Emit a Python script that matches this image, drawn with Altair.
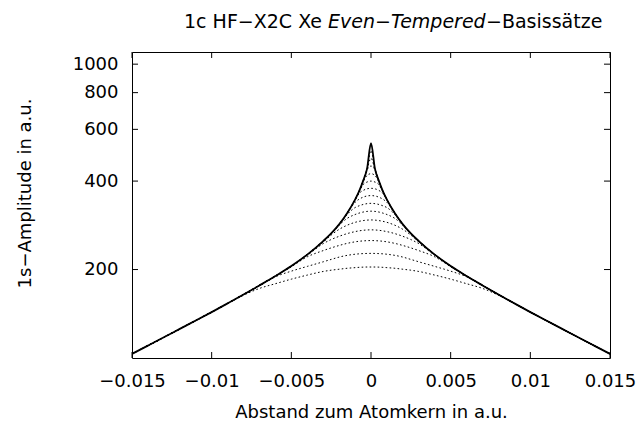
import altair as alt
import pandas as pd

# ---------------- data ----------------
# half grid of distances (curves are symmetric about the nucleus)
x_half = [0, 0.00025, 0.0005, 0.00075, 0.001, 0.0015, 0.002, 0.0025, 0.003,
          0.004, 0.005, 0.006, 0.007, 0.008, 0.009, 0.01, 0.011, 0.012,
          0.013, 0.014, 0.015]
# reference (solid) 1s amplitude
solid = [538, 440, 400, 369, 346, 311, 285, 265.5, 250, 224.8, 205.5, 190,
         176.6, 164.4, 153.4, 143.3, 134.1, 125.6, 117.6, 110.2, 103.3]
# even-tempered basis set curves (dotted); inner values, outside they follow the solid curve
d1 = [204, 204, 203.8, 203.5, 203, 202, 200.5, 199, 197, 191.5, 185.5, 179, 172.5, 163.5]
d2 = [227, 226.9, 226.6, 226.2, 225.5, 223.5, 220.5, 216.5, 212.5, 205, 197.5, 189]
d3 = [251, 250.8, 250.3, 249.6, 248.5, 245.5, 241.5, 237, 232, 221, 204.5]
d4 = [273, 272.7, 272, 270.8, 269.2, 265, 259.5, 253, 245, 223.5]
d5 = [295, 294.6, 293.5, 291.8, 289.5, 283, 274, 262, 248]
d6 = [316, 315.4, 313.8, 311.2, 307.8, 298.5, 283, 264]
d7 = [336, 335.2, 333, 329.5, 325, 307.5, 284]
d8 = [357, 356, 352.5, 347, 338.5, 310]
d9 = [378, 376.5, 371.5, 363, 344.5]
d10 = [400, 397, 389, 368]
d11 = [424, 418, 396, 368.5]
d12 = [450, 437, 399]
d13 = [478, 438]
d14 = [508, 439]
dotted = [d1, d2, d3, d4, d5, d6, d7, d8, d9, d10, d11, d12, d13, d14]

x_ticks = [-0.015, -0.01, -0.005, 0, 0.005, 0.01, 0.015]
y_ticks = [200, 400, 600, 800, 1000]

title_parts = ["1c HF\u2212X2C Xe", "Even\u2212Tempered", "\u2212Basiss\u00e4tze"]
x_title = "Abstand zum Atomkern in a.u."
y_title = "1s\u2212Amplitude in a.u."

# ---------------- build table ----------------
rows = []
def add_curve(name, half):
    for xv, yv in zip(x_half, half):
        rows.append({"x": xv, "y": yv, "curve": name})
        if xv != 0:
            rows.append({"x": -xv, "y": yv, "curve": name})

add_curve("exact", solid)
for i, d in enumerate(dotted):
    full = list(d) + solid[len(d):]
    add_curve(f"et{i+1:02d}", full)

df = pd.DataFrame(rows)
df_solid = df[df.curve == "exact"]
df_dot = df[df.curve != "exact"]

W, H = 478, 306
FONT = "DejaVu Sans"

xscale = alt.Scale(domain=[-0.015, 0.015], nice=False, zero=False)
yscale = alt.Scale(type="log", domain=[100, 1100], nice=False)

xaxis = alt.Axis(values=x_ticks, format=".3~f", ticks=False, tickSize=0,
                 domain=False, grid=False, labelFlush=False, labelOverlap=False,
                 labelFont=FONT, labelFontSize=18, labelColor="black",
                 labelPadding=14, title=x_title, titleFont=FONT,
                 titleFontSize=18, titleFontWeight="normal", titleColor="black",
                 titleX=W / 2, titleY=54, titleBaseline="middle", titleAlign="center")
yaxis = alt.Axis(values=y_ticks, format="~g", ticks=False, tickSize=0,
                 domain=False, grid=False, labelOverlap=False,
                 labelFont=FONT, labelFontSize=18, labelColor="black",
                 labelPadding=14, title=y_title, titleFont=FONT,
                 titleFontSize=18, titleFontWeight="normal", titleColor="black",
                 titleX=-107, titleY=141, titleBaseline="middle", titleAlign="center")

solid_layer = alt.Chart(df_solid).mark_line(
    color="black", strokeWidth=1.8, interpolate="monotone", clip=True
).encode(
    x=alt.X("x:Q", scale=xscale, axis=xaxis),
    y=alt.Y("y:Q", scale=yscale, axis=yaxis),
    detail="curve:N",
)

dot_layer = alt.Chart(df_dot).mark_line(
    color="black", strokeWidth=1, strokeDash=[1.6, 2.4], interpolate="monotone", clip=True
).encode(
    x=alt.X("x:Q", scale=xscale, axis=xaxis),
    y=alt.Y("y:Q", scale=yscale, axis=yaxis),
    detail="curve:N",
)

tick_len = 6
xt = pd.DataFrame({"x": x_ticks})
yt = pd.DataFrame({"y": y_ticks})
xtick_bottom = alt.Chart(xt).mark_rule(color="black", strokeWidth=1).encode(
    x=alt.X("x:Q", scale=xscale, axis=xaxis), y=alt.value(H), y2=alt.value(H - tick_len))
xtick_top = alt.Chart(xt).mark_rule(color="black", strokeWidth=1).encode(
    x=alt.X("x:Q", scale=xscale, axis=xaxis), y=alt.value(0), y2=alt.value(tick_len))
ytick_left = alt.Chart(yt).mark_rule(color="black", strokeWidth=1).encode(
    y=alt.Y("y:Q", scale=yscale, axis=yaxis), x=alt.value(0), x2=alt.value(tick_len))
ytick_right = alt.Chart(yt).mark_rule(color="black", strokeWidth=1).encode(
    y=alt.Y("y:Q", scale=yscale, axis=yaxis), x=alt.value(W), x2=alt.value(W - tick_len))

# title composed of three pieces (middle one italic)
tdf = pd.DataFrame({"t": title_parts, "i": [0, 1, 2]})
t1 = alt.Chart(tdf[tdf.i == 0]).mark_text(
    align="right", baseline="middle", font=FONT, fontSize=19, color="black"
).encode(text="t:N", x=alt.value(190), y=alt.value(-30))
t2 = alt.Chart(tdf[tdf.i == 1]).mark_text(
    align="left", baseline="middle", font=FONT, fontSize=19, fontStyle="italic", color="black"
).encode(text="t:N", x=alt.value(196), y=alt.value(-30))
t3 = alt.Chart(tdf[tdf.i == 2]).mark_text(
    align="left", baseline="middle", font=FONT, fontSize=19, color="black"
).encode(text="t:N", x=alt.value(354), y=alt.value(-30))

chart = alt.layer(
    solid_layer, dot_layer, xtick_bottom, xtick_top, ytick_left, ytick_right, t1, t2, t3
).properties(
    width=W, height=H,
    autosize=alt.AutoSizeParams(type="none"),
    padding={"left": 124, "top": 44, "right": 26, "bottom": 66},
    background="white",
).configure_view(stroke="black", strokeWidth=1)

chart.save("out.html", embed_options={"renderer": "svg", "actions": False})
